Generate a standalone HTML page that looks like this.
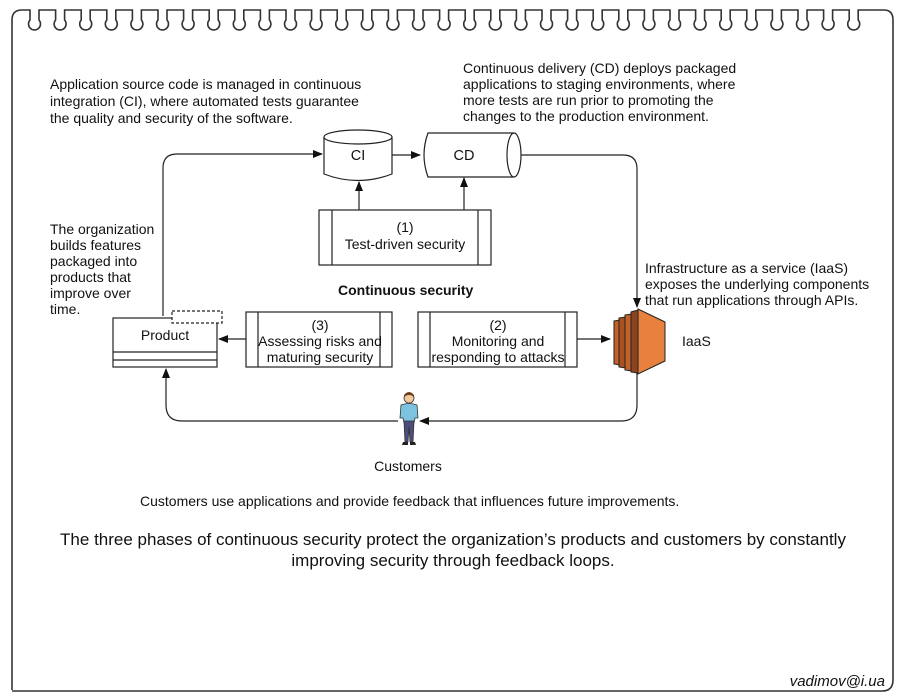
<!DOCTYPE html>
<html><head><meta charset="utf-8"><style>
html,body{margin:0;padding:0;background:#fff;width:900px;height:700px;overflow:hidden}
svg{display:block}
text{font-family:"Liberation Sans",Arial,sans-serif;fill:#111}
</style></head><body>
<svg width="900" height="700" viewBox="0 0 900 700" xmlns="http://www.w3.org/2000/svg">
<defs>
<marker id="ar" markerWidth="10" markerHeight="8" refX="9" refY="4" orient="auto" markerUnits="userSpaceOnUse">
<path d="M0,0 L10,4 L0,8 z" fill="#111"/></marker>
</defs>
<path fill="none" stroke="#333" stroke-width="1.6" d="M12,690 V20 Q12,10 22,10 H30
v10 a6 6 0 1 0 9 0 v-10 h16.6 v10 a6 6 0 1 0 9 0 v-10 h16.6 v10 a6 6 0 1 0 9 0 v-10 h16.6 v10 a6 6 0 1 0 9 0 v-10 h16.6
v10 a6 6 0 1 0 9 0 v-10 h16.6 v10 a6 6 0 1 0 9 0 v-10 h16.6 v10 a6 6 0 1 0 9 0 v-10 h16.6 v10 a6 6 0 1 0 9 0 v-10 h16.6
v10 a6 6 0 1 0 9 0 v-10 h16.6 v10 a6 6 0 1 0 9 0 v-10 h16.6 v10 a6 6 0 1 0 9 0 v-10 h16.6 v10 a6 6 0 1 0 9 0 v-10 h16.6
v10 a6 6 0 1 0 9 0 v-10 h16.6 v10 a6 6 0 1 0 9 0 v-10 h16.6 v10 a6 6 0 1 0 9 0 v-10 h16.6 v10 a6 6 0 1 0 9 0 v-10 h16.6
v10 a6 6 0 1 0 9 0 v-10 h16.6 v10 a6 6 0 1 0 9 0 v-10 h16.6 v10 a6 6 0 1 0 9 0 v-10 h16.6 v10 a6 6 0 1 0 9 0 v-10 h16.6
v10 a6 6 0 1 0 9 0 v-10 h16.6 v10 a6 6 0 1 0 9 0 v-10 h16.6 v10 a6 6 0 1 0 9 0 v-10 h16.6 v10 a6 6 0 1 0 9 0 v-10 h16.6
v10 a6 6 0 1 0 9 0 v-10 h16.6 v10 a6 6 0 1 0 9 0 v-10 h16.6 v10 a6 6 0 1 0 9 0 v-10 h16.6 v10 a6 6 0 1 0 9 0 v-10 h16.6
v10 a6 6 0 1 0 9 0 v-10 h16.6 v10 a6 6 0 1 0 9 0 v-10 h16.6 v10 a6 6 0 1 0 9 0 v-10 h16.6 v10 a6 6 0 1 0 9 0 v-10 h16.6
v10 a6 6 0 1 0 9 0 v-10
H884 Q893,10 893,20 V680 Q893,691 882,691 H12"/>

<g font-size="14">
<text x="50" y="89">Application source code is managed in continuous</text>
<text x="50" y="106">integration (CI), where automated tests guarantee</text>
<text x="50" y="123">the quality and security of the software.</text>
<text x="463" y="73">Continuous delivery (CD) deploys packaged</text>
<text x="463" y="89">applications to staging environments, where</text>
<text x="463" y="105">more tests are run prior to promoting the</text>
<text x="463" y="121">changes to the production environment.</text>
<text x="50" y="234">The organization</text>
<text x="50" y="250">builds features</text>
<text x="50" y="266">packaged into</text>
<text x="50" y="282">products that</text>
<text x="50" y="298">improve over</text>
<text x="50" y="314">time.</text>
<text x="645" y="273">Infrastructure as a service (IaaS)</text>
<text x="645" y="289">exposes the underlying components</text>
<text x="645" y="305">that run applications through APIs.</text>
<text x="338" y="295" font-weight="bold">Continuous security</text>
<text x="408" y="471" text-anchor="middle">Customers</text>
<text x="140" y="506">Customers use applications and provide feedback that influences future improvements.</text>
<text x="682" y="346">IaaS</text>
</g>
<g font-size="17" text-anchor="middle">
<text x="453" y="545">The three phases of continuous security protect the organization’s products and customers by constantly</text>
<text x="453" y="566">improving security through feedback loops.</text>
</g>
<text x="885" y="686" font-size="15" font-style="italic" text-anchor="end">vadimov@i.ua</text>

<g fill="none" stroke="#222" stroke-width="1.2">
<path d="M163,316 V168 Q163,154 177,154 H322" marker-end="url(#ar)"/>
<path d="M392,155 H420" marker-end="url(#ar)"/>
<path d="M521,155 H623 Q637,155 637,169 V307" marker-end="url(#ar)"/>
<path d="M359,210 V182" marker-end="url(#ar)"/>
<path d="M464,210 V178" marker-end="url(#ar)"/>
<path d="M246,339 H219" marker-end="url(#ar)"/>
<path d="M577,339 H610" marker-end="url(#ar)"/>
<path d="M637,370 V405 Q637,421 621,421 H420" marker-end="url(#ar)"/>
<path d="M398,421 H182 Q166,421 166,405 V369" marker-end="url(#ar)"/>
</g>
<g fill="#fff" stroke="#222" stroke-width="1.2">
<path d="M324,137 V174 Q358,187 392,174 V137"/>
<ellipse cx="358" cy="137" rx="34" ry="7"/>
<text x="358" y="160" font-size="14.5" text-anchor="middle" stroke="none">CI</text>
<path d="M514,133 H428 Q420,155 428,177 H514"/>
<ellipse cx="514" cy="155" rx="7" ry="22"/>
<text x="464" y="160" font-size="14.5" text-anchor="middle" stroke="none">CD</text>
<rect x="319" y="210" width="172" height="55"/>
<line x1="332" y1="210" x2="332" y2="265"/><line x1="478" y1="210" x2="478" y2="265"/>
<rect x="246" y="312" width="146" height="55"/>
<line x1="258" y1="312" x2="258" y2="367"/><line x1="380" y1="312" x2="380" y2="367"/>
<rect x="418" y="312" width="159" height="55"/>
<line x1="430" y1="312" x2="430" y2="367"/><line x1="565" y1="312" x2="565" y2="367"/>
<rect x="113" y="318" width="104" height="49"/>
<line x1="113" y1="352" x2="217" y2="352"/><line x1="113" y1="360" x2="217" y2="360"/>
<rect x="172" y="311" width="50" height="12" stroke-dasharray="3,2"/>
</g>
<g font-size="14" text-anchor="middle">
<text x="405" y="232">(1)</text><text x="405" y="249">Test-driven security</text>
<text x="320" y="330">(3)</text><text x="320" y="346">Assessing risks and</text><text x="320" y="362">maturing security</text>
<text x="498" y="330">(2)</text><text x="498" y="346">Monitoring and</text><text x="498" y="362">responding to attacks</text>
<text x="165" y="340">Product</text>
</g>
<g stroke="#222" stroke-width="1">
<path d="M614,321 L620,320 V365 L614,364 z" fill="#c4612a"/>
<path d="M619,318 L626,317 V368 L619,367 z" fill="#a9521f"/>
<path d="M625,315 L632,314 V371 L625,370 z" fill="#c4612a"/>
<path d="M631,312 L638,310 V373 L631,372 z" fill="#8a4520"/>
<path d="M638,309 L665,322 V361 L638,374 z" fill="#e8803e"/>
</g>
<g>
<circle cx="409" cy="398" r="5" fill="#f2c9a0" stroke="#333" stroke-width="0.8"/>
<path d="M404,395 Q409,389 414,395 L414,397 Q409,393 404,397z" fill="#6b3f1f"/>
<path d="M401,405 Q409,402 417,405 L418,418 L415,418 L414,423 L404,423 L403,418 L400,418 z" fill="#7cc3e0" stroke="#333" stroke-width="0.8"/>
<path d="M404,421 H414 L413,442 H410 L409,427 L408,442 H405 z" fill="#4b4e7a" stroke="#333" stroke-width="0.8"/>
<path d="M403,442 H408 V445 H402z M410,442 H415 L416,445 H410z" fill="#222"/>
</g>
</svg>
</body></html>
